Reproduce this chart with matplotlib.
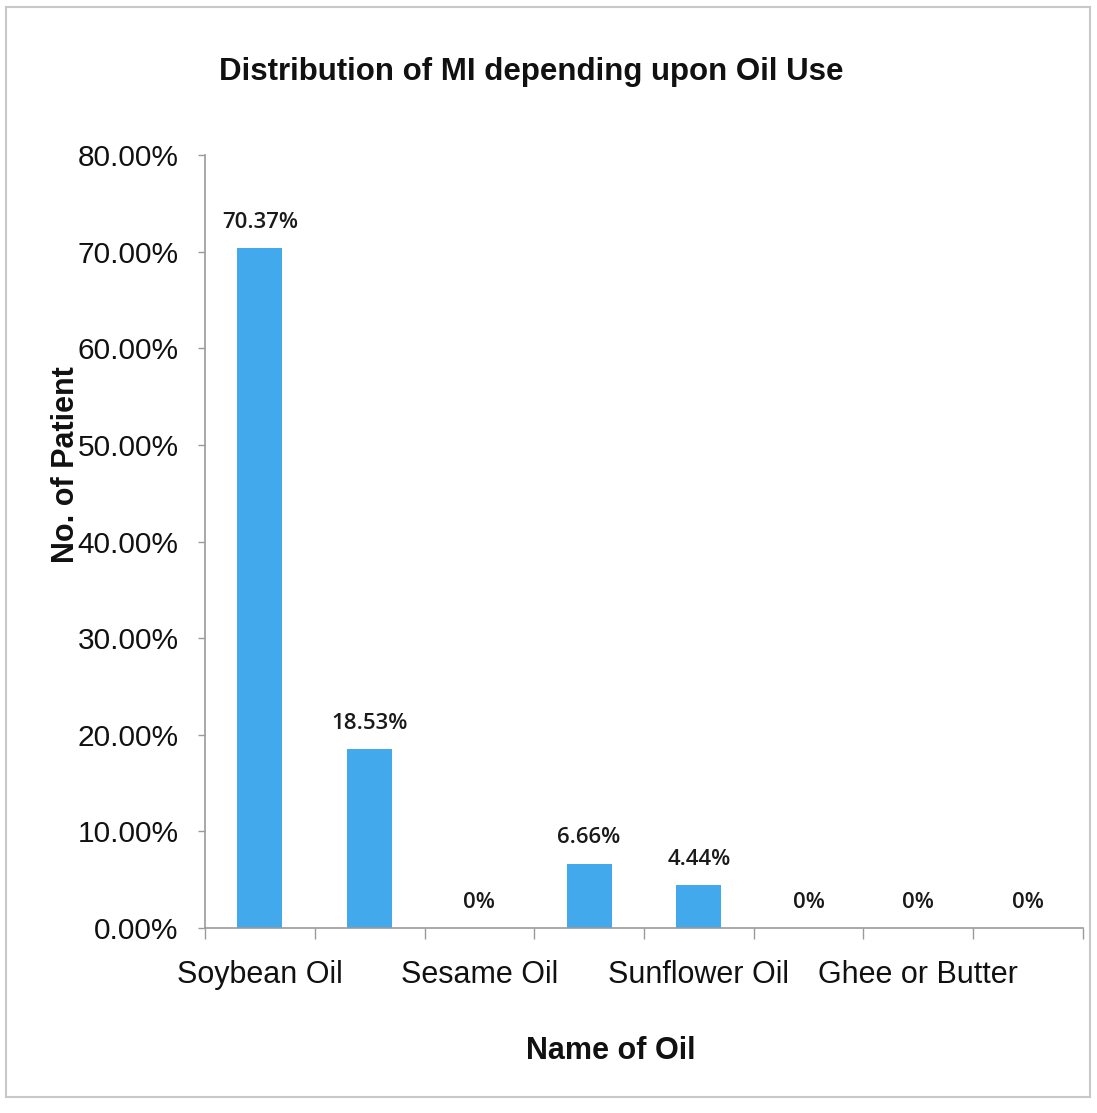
import numpy as np
import matplotlib
matplotlib.use('Agg')
import matplotlib.pyplot as plt
from matplotlib.patches import Rectangle
from matplotlib.ticker import FuncFormatter, FixedLocator

# Доля пациентов с ИМ по типу используемого масла (%)
oil_names = ['Soybean Oil', '', 'Sesame Oil', '', 'Sunflower Oil', '', 'Ghee or Butter', '']
patient_pct = [70.37, 18.53, 0, 6.66, 4.44, 0, 0, 0]
y_ticks = [0, 10, 20, 30, 40, 50, 60, 70, 80]

bar_color = '#41A9EC'
axis_color = '#9a9a9a'

plt.rcParams['font.family'] = ['Liberation Sans', 'DejaVu Sans']

fig = plt.figure(figsize=(10.97, 11.13), dpi=100)
ax = fig.add_axes([0.1869, 0.1662, 0.8003, 0.6945])

x = np.arange(len(patient_pct))
bars = ax.bar(x, patient_pct, width=0.41, color=bar_color, zorder=2)

# Подписи значений над столбцами
for xi, v in zip(x, patient_pct):
    txt = f'{v:.2f}%' if v else '0%'
    ax.annotate(txt, (xi, v), xytext=(0, 11), textcoords='offset points',
                ha='center', va='bottom', fontsize=16, fontweight='semibold',
                family=['Open Sans', 'DejaVu Sans'], color='#1a1a1a')

ax.set_xlim(-0.5, len(patient_pct) - 0.5)
ax.set_ylim(0, 80)

# Ось Y
ax.set_yticks(y_ticks)
ax.yaxis.set_major_formatter(FuncFormatter(lambda v, p: f'{v:.2f}%'))
ax.tick_params(axis='y', length=5, width=1, color=axis_color, pad=14,
               labelsize=21.5, labelcolor='#111111')

# Ось X: деления на границах категорий, подписи по центрам
ax.xaxis.set_major_locator(FixedLocator(np.arange(len(patient_pct) + 1) - 0.5))
ax.xaxis.set_minor_locator(FixedLocator(x))
ax.set_xticklabels([], minor=False)
ax.set_xticklabels(oil_names, minor=True)
ax.tick_params(axis='x', which='major', length=8, width=1, color=axis_color)
ax.tick_params(axis='x', which='minor', length=0, pad=23, labelsize=22,
               labelcolor='#111111')

for s in ['top', 'right']:
    ax.spines[s].set_visible(False)
for s in ['left', 'bottom']:
    ax.spines[s].set_color(axis_color)
    ax.spines[s].set_linewidth(1.2)

ax.set_ylabel('No. of Patient', fontsize=22, fontweight='bold', color='#111111')
ax.yaxis.set_label_coords(-0.141, 0.599)
ax.set_xlabel('Name of Oil', fontsize=22, fontweight='bold', color='#111111')
ax.xaxis.set_label_coords(0.462, -0.140)

fig.text(0.484, 0.935, 'Distribution of MI depending upon Oil Use',
         ha='center', va='center', fontsize=22.5, fontweight='bold', color='#111111')

# Рамка вокруг всей диаграммы
fig.patches.append(Rectangle((6 / 1097, 16 / 1113), 1084 / 1097, 1090 / 1113,
                             transform=fig.transFigure, fill=False,
                             edgecolor='#c8c8c8', linewidth=1.5))

fig.savefig('out.png', dpi=100)
